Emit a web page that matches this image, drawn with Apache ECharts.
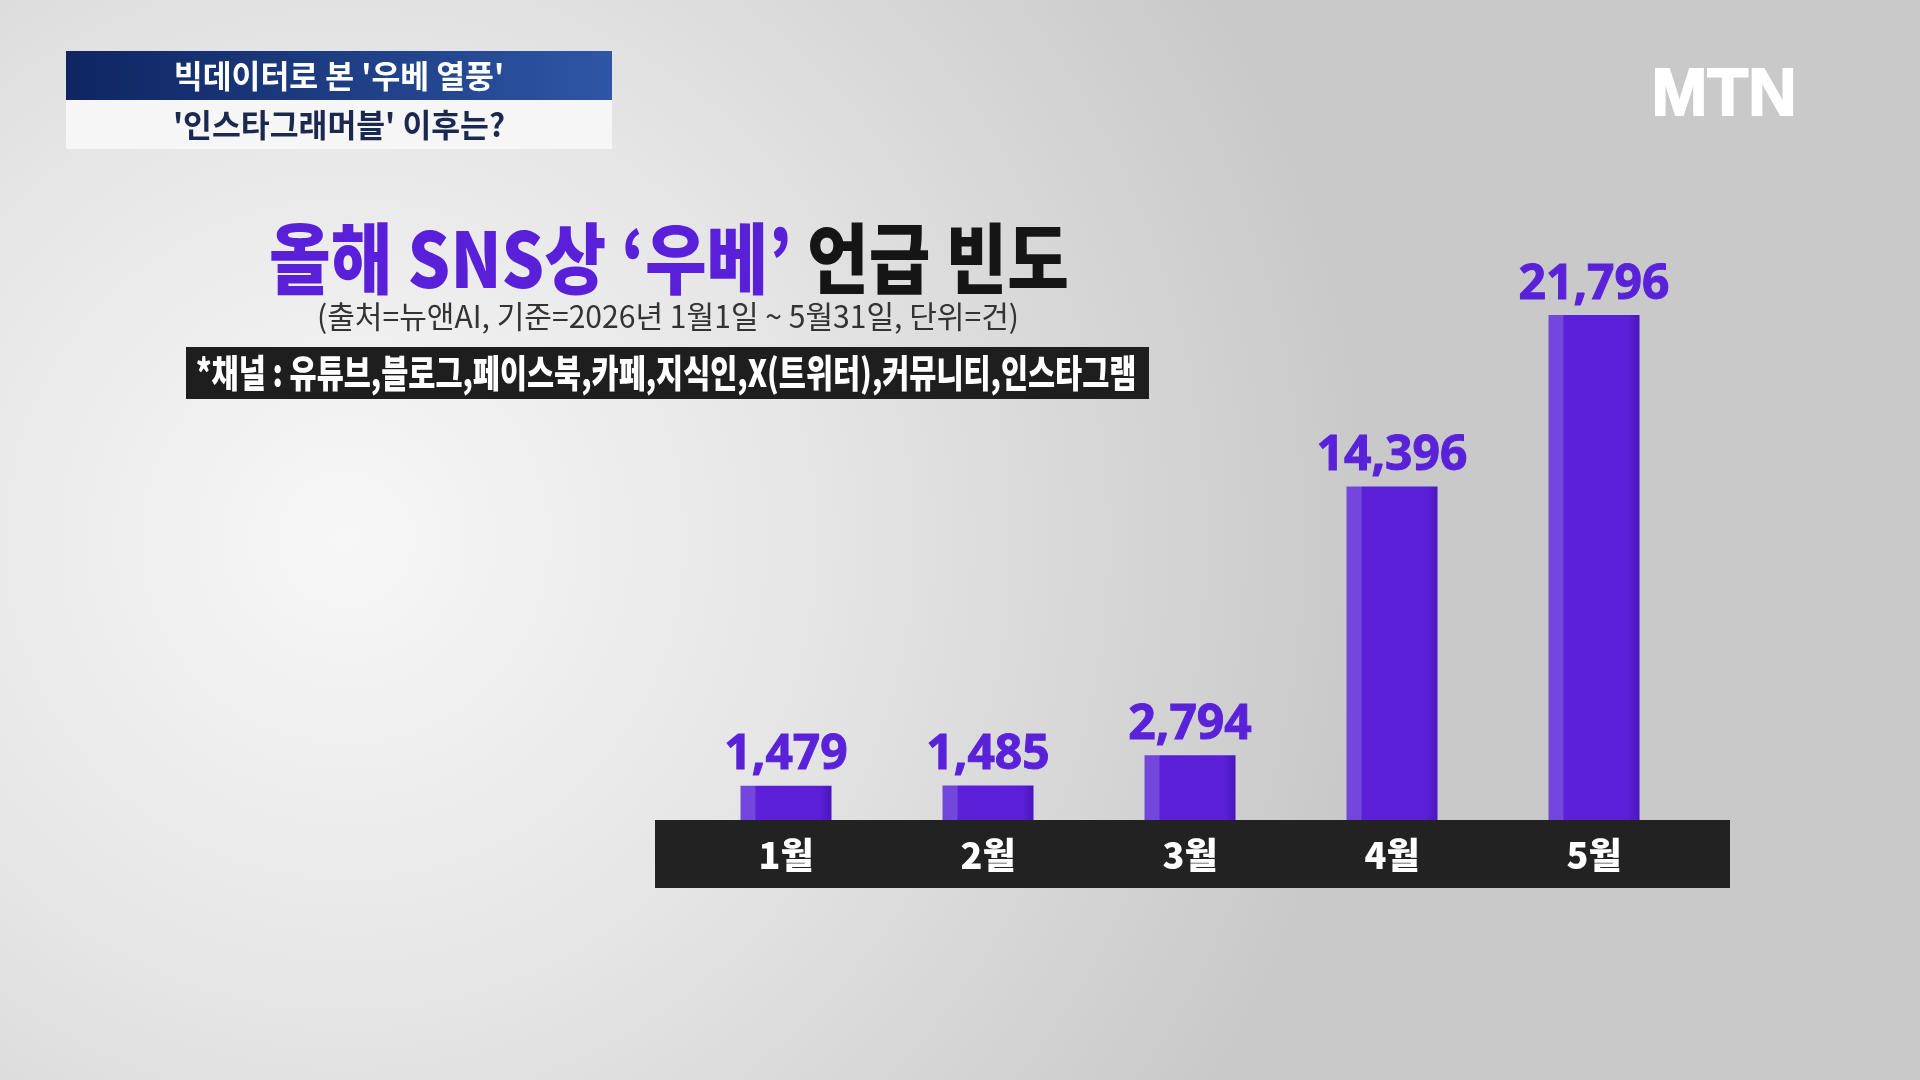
<!DOCTYPE html>
<html>
<head>
<meta charset="utf-8">
<script src="https://cdn.jsdelivr.net/npm/echarts@6/dist/echarts.min.js"></script>
<style>
html,body{margin:0;padding:0;width:1920px;height:1080px;overflow:hidden;}
#c{width:1920px;height:1080px;}
</style>
</head>
<body>
<div id="c"></div>
<script>
const months = ['1월', '2월', '3월', '4월', '5월'];
const mentions = [1479, 1485, 2794, 14396, 21796];
const headerLine1 = "빅데이터로 본 '우베 열풍'";
const headerLine2 = "'인스타그래머블' 이후는?";
const titlePurple = '올해 SNS상 ‘우베’';
const titleBlack = '언급 빈도';
const subtitle = '(출처=뉴앤AI, 기준=2026년 1월1일 ~ 5월31일, 단위=건)';
const channels = '*채널 : 유튜브,블로그,페이스북,카페,지식인,X(트위터),커뮤니티,인스타그램';
const logo = 'MTN';

const KR = '"Noto Sans CJK KR", "Noto Sans", sans-serif';
const chart = echarts.init(document.getElementById('c'));

chart.setOption({
  backgroundColor: {
    type: 'radial', x: 0.18, y: 0.5, r: 0.95,
    colorStops: [
      {offset: 0, color: '#f7f7f7'},
      {offset: 0.45, color: '#e6e6e6'},
      {offset: 1, color: '#c9c9c9'}
    ]
  },
  animation: false,
  grid: {left: 685, right: 225, top: 315, bottom: 260},
  xAxis: {
    type: 'category',
    data: months,
    z: 10,
    axisLine: {show: false},
    axisTick: {show: false},
    axisLabel: {
      color: '#ffffff', fontSize: 36, fontWeight: 900,
      fontFamily: KR, margin: 17
    }
  },
  yAxis: {
    type: 'value', min: 0, max: 'dataMax', show: false,
    splitLine: {show: false}
  },
  series: [{
    type: 'bar',
    data: mentions,
    barWidth: 91,
    itemStyle: {
      color: {
        type: 'linear', x: 0, y: 0, x2: 1, y2: 0,
        colorStops: [
          {offset: 0, color: '#7346dc'},
          {offset: 0.16, color: '#7346dc'},
          {offset: 0.17, color: '#5a1fd6'},
          {offset: 0.88, color: '#5a1fd6'},
          {offset: 1, color: '#4a16bd'}
        ]
      }
    },
    label: {
      show: true, position: 'top', distance: 6,
      color: '#5a22d8', fontSize: 48, fontWeight: 'bold',
      fontFamily: '"Noto Sans", sans-serif',
      textBorderColor: '#5a22d8', textBorderWidth: 1,
      formatter: p => p.value.toLocaleString('en-US')
    }
  }],
  graphic: [
    // category band
    {type: 'rect', z: 0, shape: {x: 655, y: 820, width: 1075, height: 68},
     style: {fill: '#222222'}},
    // header boxes
    {type: 'rect', z: 5, shape: {x: 66, y: 51, width: 546, height: 49},
     style: {fill: {type: 'linear', x: 0, y: 0, x2: 1, y2: 0,
       colorStops: [{offset: 0, color: '#0e2561'}, {offset: 1, color: '#2e56a6'}]}}},
    {type: 'rect', z: 5, shape: {x: 66, y: 100, width: 546, height: 49},
     style: {fill: '#f6f6f6'}},
    {type: 'text', z: 6, x: 339, y: 76, scaleX: 0.98,
     style: {text: headerLine1, fill: '#ffffff', font: 'bold 32px ' + KR,
       textAlign: 'center', textVerticalAlign: 'middle'}},
    {type: 'text', z: 6, x: 339, y: 125, scaleX: 0.98,
     style: {text: headerLine2, fill: '#1b2850', font: 'bold 32px ' + KR,
       textAlign: 'center', textVerticalAlign: 'middle'}},
    // logo
    {type: 'text', z: 6, x: 1724, y: 97,
     style: {text: logo, fill: '#ffffff', font: 'bold 67px "Liberation Sans", Arial, sans-serif',
       stroke: '#ffffff', lineWidth: 2,
       textAlign: 'center', textVerticalAlign: 'middle'}},
    // main title
    {type: 'text', z: 6, x: 269, y: 259, scaleX: 0.87,
     style: {
       text: '{a|' + titlePurple + '} {b|' + titleBlack + '}',
       font: '900 77px ' + KR,
       textAlign: 'left', textVerticalAlign: 'middle',
       rich: {
         a: {fill: '#5a1fd8', fontSize: 77, fontWeight: 900, fontFamily: KR},
         b: {fill: '#151515', fontSize: 77, fontWeight: 900, fontFamily: KR}
       }
     }},
    // subtitle
    {type: 'text', z: 6, x: 668, y: 316, scaleX: 0.97,
     style: {text: subtitle, fill: '#333333', font: '31px ' + KR,
       textAlign: 'center', textVerticalAlign: 'middle'}},
    // channel bar
    {type: 'rect', z: 5, shape: {x: 186, y: 347, width: 963, height: 52},
     style: {fill: '#1e1e1e'}},
    {type: 'text', z: 6, x: 196, y: 373, scaleX: 0.775,
     style: {text: channels, fill: '#ffffff', font: '900 38px ' + KR,
       textAlign: 'left', textVerticalAlign: 'middle'}}
  ]
});
</script>
</body>
</html>
